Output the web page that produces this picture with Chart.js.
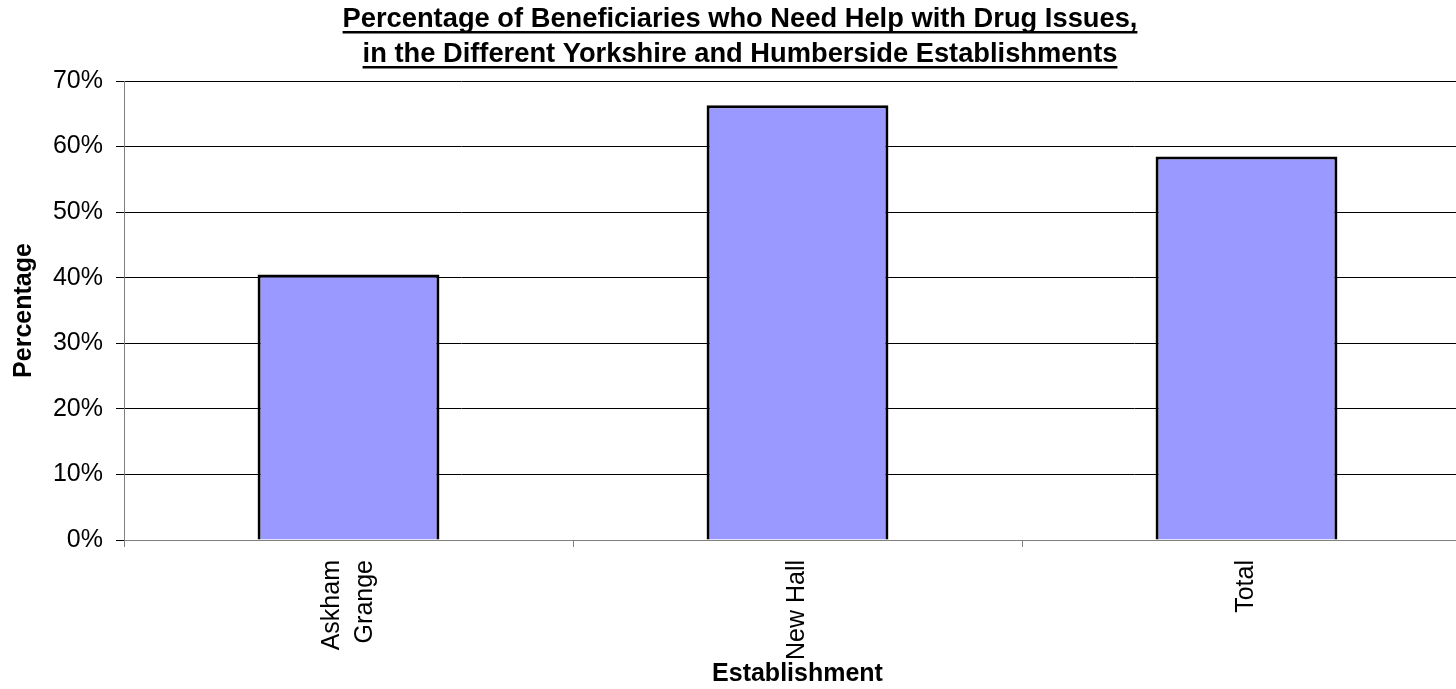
<!DOCTYPE html>
<html>
<head>
<meta charset="utf-8">
<script src="https://cdn.jsdelivr.net/npm/chart.js@4.4.1/dist/chart.umd.min.js"></script>
<style>
  html, body { margin: 0; padding: 0; background: #fff; overflow: hidden; }
  canvas { display: block; }
</style>
</head>
<body>
<canvas id="chart" width="1480" height="689"></canvas>
<script>
// chart data
const categories = [["Askham", "Grange"], ["New Hall"], ["Total"]];
const percentages = [40.5, 66.3, 58.5];
const titleLines = [
  "Percentage of Beneficiaries who Need Help with Drug Issues,",
  "in the Different Yorkshire and Humberside Establishments"
];
const yTicks = [0, 10, 20, 30, 40, 50, 60, 70];

const FONT = "'Liberation Sans', Arial, sans-serif";
Chart.defaults.color = "#000";
Chart.defaults.font.family = FONT;

// underlined title, centred on the whole canvas
const titlePlugin = {
  id: "underlinedTitle",
  afterDraw(chart) {
    const ctx = chart.ctx;
    const cx = chart.width / 2;
    ctx.save();
    ctx.font = "bold 27.3px " + FONT;
    ctx.fillStyle = "#000";
    ctx.textAlign = "center";
    ctx.textBaseline = "alphabetic";
    const baselines = [27, 62];
    titleLines.forEach((line, i) => {
      ctx.fillText(line, cx, baselines[i]);
      let w = ctx.measureText(line).width;
      ctx.fillRect(cx - w / 2, baselines[i] + 4, w, 2.5);
    });
    ctx.restore();
  }
};

// rotated category labels, lines centred on the tick
const xLabelPlugin = {
  id: "xLabels",
  afterDraw(chart) {
    const ctx = chart.ctx;
    const xs = chart.scales.x;
    const lh = 33;
    ctx.save();
    ctx.font = "25px " + FONT;
    ctx.fillStyle = "#000";
    ctx.textAlign = "right";
    ctx.textBaseline = "middle";
    categories.forEach((lab, i) => {
      const x = xs.getPixelForTick(i);
      ctx.save();
      ctx.translate(x, xs.top + 20);
      ctx.rotate(-Math.PI / 2);
      lab.forEach((t, j) => {
        ctx.fillText(t, 0, (j - (lab.length - 1) / 2) * lh);
      });
      ctx.restore();
    });
    ctx.restore();
  }
};

new Chart(document.getElementById("chart"), {
  type: "bar",
  data: {
    labels: categories.map((c) => c.join(" ")),
    datasets: [
      {
        data: percentages,
        backgroundColor: "#9999FF",
        borderColor: "#000",
        borderWidth: 3,
        barPercentage: 0.405,
        categoryPercentage: 1
      }
    ]
  },
  options: {
    responsive: false,
    animation: false,
    events: [],
    layout: { padding: { top: 81, right: 9, left: 0, bottom: 0 } },
    plugins: { legend: { display: false }, title: { display: false }, tooltip: { enabled: false } },
    scales: {
      x: {
        offset: true,
        grid: { offset: true, drawOnChartArea: false, drawTicks: true, tickLength: 7, color: "#808080" },
        border: { color: "#808080", width: 1 },
        ticks: { display: false },
        title: { display: true, text: "Establishment", font: { size: 25, weight: "bold" }, padding: { top: 0, bottom: 0 } },
        afterFit: (s) => { s.height = 149; }
      },
      y: {
        min: 0,
        max: 70,
        afterBuildTicks: (s) => { s.ticks = yTicks.map((v) => ({ value: v })); },
        grid: { color: "#000", lineWidth: 1, tickLength: 8, tickColor: "#000" },
        border: { color: "#808080", width: 1 },
        ticks: { font: { size: 25 }, padding: 13, callback: (v) => v + "%" },
        title: { display: true, text: "Percentage", font: { size: 25, weight: "bold" }, padding: { top: 9, bottom: 0 } },
        afterFit: (s) => { s.width = 124; }
      }
    }
  },
  plugins: [titlePlugin, xLabelPlugin]
});
</script>
</body>
</html>
